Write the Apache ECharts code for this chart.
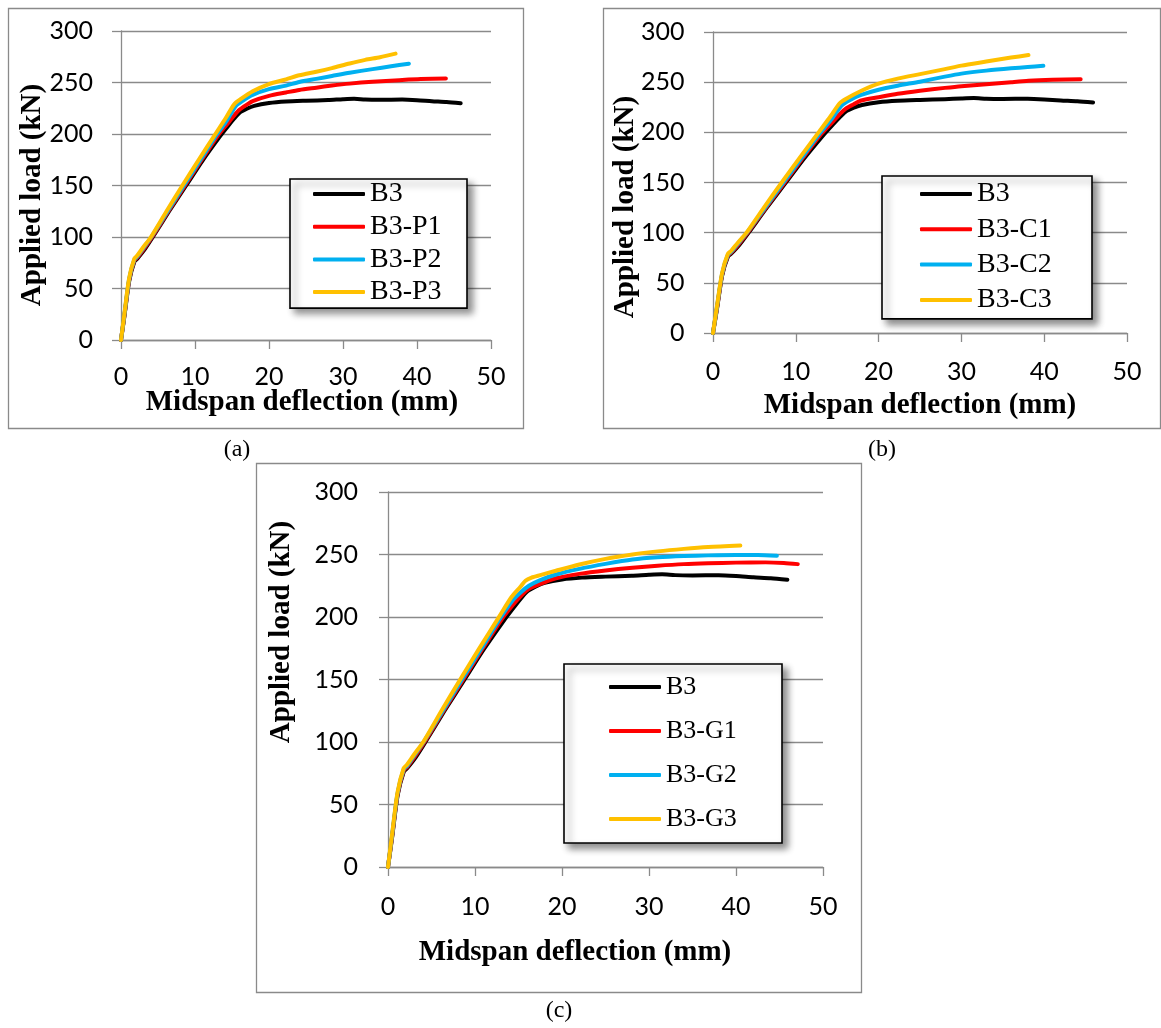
<!DOCTYPE html>
<html>
<head>
<meta charset="utf-8">
<script src="https://cdn.jsdelivr.net/npm/echarts@6/dist/echarts.min.js"></script>
<style>
  html, body { margin: 0; padding: 0; background: #fff; }
  #chart { width: 1161px; height: 1028px; }
</style>
</head>
<body>
<div id="chart"></div>
<script>
// ---- Data: [midspan deflection (mm), applied load (kN)] ----
const B3 = [[0,0],[0.5,25],[1.1,57],[1.8,76],[2.2,79],[3.2,88],[4.3,100],[6.5,125],[8.8,150],[11.0,174],[13.3,197],[14.5,208],[15.3,215],[16.0,220.5],[17.0,224.5],[18.0,227.3],[20.0,230],[22.3,231.5],[25.0,232.3],[28.0,233],[30.0,233.8],[31.5,234.2],[33.0,233.5],[35.0,233.3],[38.0,233.4],[40.0,232.8],[42.0,231.8],[44.0,231],[45.9,229.8]];

const P1 = [[0,0],[0.5,26],[1.1,58],[1.8,77],[2.2,80],[3.1,88.5],[4.2,100],[6.4,125],[8.65,150],[10.9,175],[13.15,199],[14.4,210],[15.3,218],[16.0,223.5],[17.0,228.5],[17.8,232],[20.0,237],[22.3,240.3],[24.1,242.8],[26.4,245],[28.5,247],[30.9,248.9],[34.0,250.7],[37.6,252.2],[40.5,253.3],[43.9,254]];
const P2 = [[0,0],[0.5,27],[1.1,59],[1.8,78],[2.2,81],[3.0,89],[4.1,100],[6.3,125],[8.5,150],[10.75,175],[13.0,200],[14.3,213],[15.5,227],[16.5,232.5],[17.8,238],[20.0,243.5],[22.3,247],[24.1,250.5],[26.4,253.5],[28.5,256.3],[30.9,259.5],[34.0,263],[36.5,265.8],[38.9,268.3]];
const P3 = [[0,0],[0.5,28],[1.1,60],[1.8,79],[2.2,82],[3.0,90],[4.05,100],[6.15,125],[8.3,150],[10.55,175.5],[12.8,200.5],[14.2,216],[15.3,229],[16.2,234],[17.8,241.5],[20.0,248.5],[22.3,253],[24.1,257],[26.4,260.5],[28.5,264],[30.9,268.5],[33.0,272],[35.0,274.5],[37.1,278]];

const C1 = [[0,0],[0.5,26],[1.1,58],[1.8,77],[2.2,80],[3.1,88.5],[4.2,100],[6.4,125],[8.65,150],[10.9,175],[13.15,199],[14.4,210],[15.3,218],[16.0,223.5],[17.0,228],[17.8,231.5],[20.0,235],[22.3,238.5],[25.0,241.5],[28.0,244.3],[30.0,246],[33.0,248],[36.0,250],[38.1,251.3],[41.0,252.3],[44.4,253]];
const C2 = [[0,0],[0.5,27],[1.1,59],[1.8,78],[2.2,81],[3.0,89],[4.1,100],[6.3,125],[8.5,150],[10.75,175],[13.0,200],[14.3,213],[15.5,226.5],[16.5,232],[17.8,237],[20.0,242.5],[22.3,246.5],[25.0,250.5],[28.0,255.5],[30.0,258.5],[33.0,261.5],[36.0,263.8],[38.0,265],[39.9,266.3]];
const C3 = [[0,0],[0.5,28],[1.1,60],[1.8,79],[2.2,82],[3.0,90],[4.05,100],[6.15,125],[8.3,150],[10.55,175.5],[12.8,200.5],[14.2,216],[15.3,229],[16.2,234],[17.8,241],[20.0,248.5],[22.3,253.5],[25.0,258],[28.0,263],[30.0,266.5],[33.0,270.5],[36.0,274.5],[38.1,277]];

const G1 = [[0,0],[0.5,26],[1.1,58],[1.8,77],[2.2,80],[3.1,88.5],[4.2,100],[6.4,125],[8.65,150],[10.9,175],[13.15,199],[14.4,210],[15.3,217],[16.2,222.5],[17.5,226.5],[19.3,231],[22.0,234.5],[25.0,237.2],[28.1,239.4],[31.0,241],[34.0,242.3],[36.8,243],[40.0,243.5],[43.4,243.7],[45.5,243.2],[47.1,242.3]];
const G2 = [[0,0],[0.5,27],[1.1,59],[1.8,78],[2.2,81],[3.0,89],[4.1,100],[6.3,125],[8.5,150],[10.75,175],[13.0,200],[14.3,213],[15.3,220],[16.2,225],[17.5,229.5],[19.3,234],[22.0,238.5],[25.0,242.5],[28.1,246],[31.0,247.8],[34.0,248.8],[36.8,249.3],[40.0,249.6],[42.5,249.6],[44.7,249]];
const G3 = [[0,0],[0.5,28],[1.1,60],[1.8,79],[2.2,82],[3.0,90],[4.05,100],[6.15,125],[8.3,150],[10.55,175.5],[12.8,200.5],[14.2,216],[15.2,224],[15.8,229],[16.5,231.5],[17.5,233.5],[19.3,237],[22.0,242],[25.0,246.5],[28.1,250],[31.0,252.5],[34.0,254.5],[36.8,256],[40.5,257.2]];

const seriesNames = [
  ['B3','B3-P1','B3-P2','B3-P3'],
  ['B3','B3-C1','B3-C2','B3-C3'],
  ['B3','B3-G1','B3-G2','B3-G3']
];
const seriesData = [[B3,P1,P2,P3],[B3,C1,C2,C3],[B3,G1,G2,G3]];
const colors = ['#000000','#FF0000','#00B0F0','#FFC000'];
const xTitle = 'Midspan deflection (mm)';
const yTitle = 'Applied load (kN)';
const captions = ['(a)','(b)','(c)'];

// ---- Layout ----
const GRAY = '#8a8a8a';
const SERIF = '"Liberation Serif", "Times New Roman", serif';
const SANS = 'Lato, "Open Sans", sans-serif';

const grids = [
  {left:121, top:31, width:370, height:309},
  {left:713, top:32, width:414, height:301},
  {left:388, top:492, width:435, height:375}
];
const tickFont = [25, 25, 25];
const xLabelMargin = [24, 26, 27];
const yLabelMargin = [28, 28.5, 30];

const xAxes = grids.map((g,i)=>({
  type:'value', gridIndex:i, min:0, max:50, interval:10,
  axisLine:{show:true, onZero:false, lineStyle:{color:GRAY, width:1.3}},
  axisTick:{show:true, inside:false, length:9, lineStyle:{color:GRAY, width:1.3}},
  axisLabel:{fontFamily:SANS, fontSize:tickFont[i], color:'#000', margin:xLabelMargin[i]},
  splitLine:{show:false}
}));
const yAxes = grids.map((g,i)=>({
  type:'value', gridIndex:i, min:0, max:300, interval:50,
  axisLine:{show:true, lineStyle:{color:GRAY, width:1.3}},
  axisTick:{show:true, inside:false, length:9, lineStyle:{color:GRAY, width:1.3}},
  axisLabel:{fontFamily:SANS, fontSize:tickFont[i], color:'#000', margin:yLabelMargin[i]},
  splitLine:{show:true, lineStyle:{color:GRAY, width:1.3}}
}));

const series = [];
seriesData.forEach((panel,i)=>{
  panel.forEach((d,j)=>{
    series.push({
      type:'line', name:seriesNames[i][j], data:d,
      xAxisIndex:i, yAxisIndex:i,
      symbol:'none', showSymbol:false,
      smooth:0.25,
      lineStyle:{color:colors[j], width:4, cap:'round', join:'round'},
      itemStyle:{color:colors[j]},
      z: 2 + j
    });
  });
});

const legendCfg = [
  {left:290, top:179, padding:[1,24,2,23], itemGap:4.7, fontSize:28},
  {left:882, top:176, padding:[4,40,5,38], itemGap:7.3, fontSize:28},
  {left:564, top:664, padding:[10,45,11,45], itemGap:18, fontSize:26}
];
const legendW = [177, 210, 218];
const legends = legendCfg.map((c,i)=>({
  orient:'vertical', left:c.left, top:c.top, padding:c.padding,
  itemGap:c.itemGap, itemWidth:52, itemHeight:4,
  icon:'roundRect',
  selectedMode:false,
  data:seriesNames[i],
  backgroundColor:'#fff', borderColor:'#000', borderWidth:1.6, borderRadius:0,
  shadowBlur:7, shadowColor:'rgba(0,0,0,0.45)', shadowOffsetX:5, shadowOffsetY:5,
  formatter: name => '{t|' + name + '}',
  textStyle:{
    color:'#000',
    rich:{ t:{ fontFamily:SERIF, fontSize:c.fontSize, lineHeight:26, color:'#000',
               width: legendW[i] - c.padding[1] - c.padding[3] - 52 - 5 } }
  }
}));

const panels = [
  {x:8, y:8, w:515, h:420},
  {x:603, y:8, w:557, h:420},
  {x:256, y:463, w:605, h:529}
];
const xTitlePos = [[302,403],[920,406],[575,953]];
const yTitlePos = [[33,195],[626,207],[282,632]];
const captionPos = [[237,450],[882,450],[559,1011]];

const graphic = [];
panels.forEach(p=>graphic.push({type:'rect', z:-10, shape:{x:p.x+0.5, y:p.y+0.5, width:p.w, height:p.h},
  style:{fill:'none', stroke:GRAY, lineWidth:1.3}}));
xTitlePos.forEach(p=>graphic.push({type:'text', x:p[0], y:p[1],
  style:{text:xTitle, font:'bold 29px ' + SERIF, fill:'#000', align:'center', verticalAlign:'middle', textAlign:'center', textVerticalAlign:'middle'}}));
yTitlePos.forEach(p=>graphic.push({type:'text', x:p[0], y:p[1], rotation:Math.PI/2,
  style:{text:yTitle, font:'bold 29px ' + SERIF, fill:'#000', align:'center', verticalAlign:'middle', textAlign:'center', textVerticalAlign:'middle'}}));
captionPos.forEach((p,i)=>graphic.push({type:'text', x:p[0], y:p[1],
  style:{text:captions[i], font:'24px ' + SERIF, fill:'#000', align:'center', verticalAlign:'middle', textAlign:'center', textVerticalAlign:'middle'}}));

const chart = echarts.init(document.getElementById('chart'), null, {renderer:'canvas'});
chart.setOption({
  animation:false,
  backgroundColor:'#fff',
  grid:grids,
  xAxis:xAxes,
  yAxis:yAxes,
  legend:legends,
  graphic:graphic,
  series:series
});
</script>
</body>
</html>
